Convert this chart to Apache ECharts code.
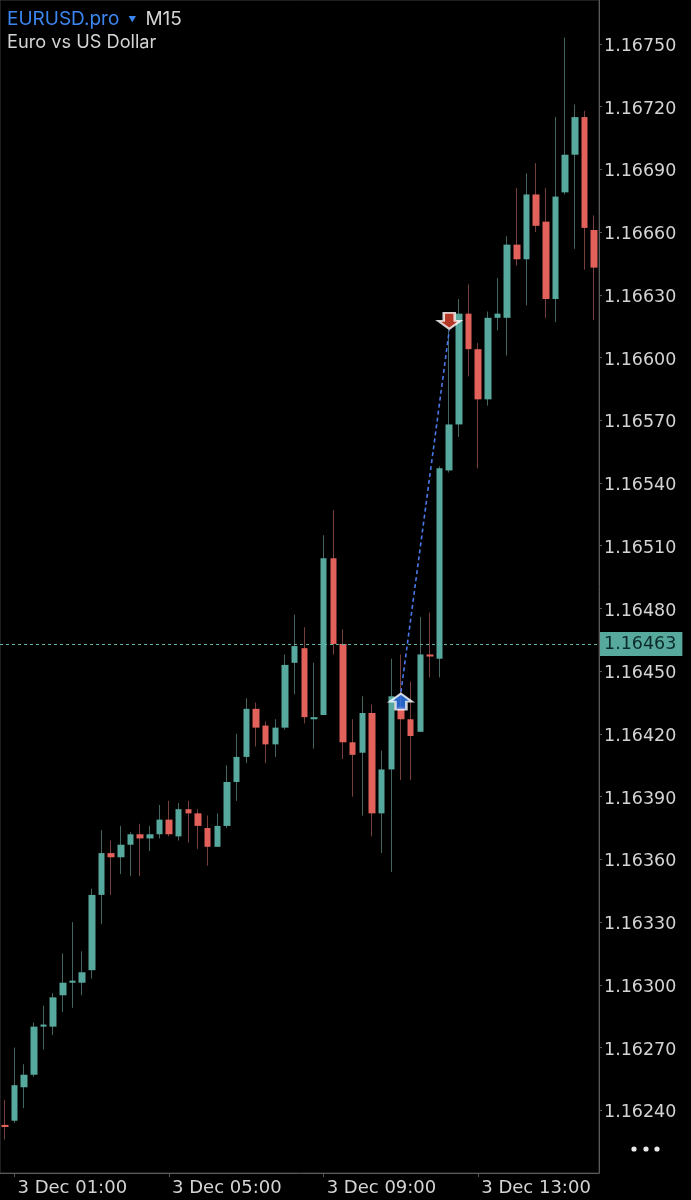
<!DOCTYPE html>
<html>
<head>
<meta charset="utf-8">
<style>html,body{margin:0;padding:0;background:#000}#c{width:691px;height:1200px}</style>
<script src="https://cdn.jsdelivr.net/npm/echarts@6/dist/echarts.min.js"></script>
</head>
<body>
<div id="c"></div>
<script>
const times = ['00:45','01:00','01:15','01:30','01:45','02:00','02:15','02:30','02:45','03:00','03:15','03:30','03:45','04:00','04:15','04:30','04:45','05:00','05:15','05:30','05:45','06:00','06:15','06:30','06:45','07:00','07:15','07:30','07:45','08:00','08:15','08:30','08:45','09:00','09:15','09:30','09:45','10:00','10:15','10:30','10:45','11:00','11:15','11:30','11:45','12:00','12:15','12:30','12:45','13:00','13:15','13:30','13:45','14:00','14:15','14:30','14:45','15:00','15:15','15:30','15:45','16:00'];
const timeLabels = ['01:00','05:00','09:00','13:00'];
const opens = [1.16233,1.16235,1.16251,1.16257,1.16280,1.16280,1.16295,1.16301,1.16301,1.16307,1.16343,1.16363,1.16361,1.16367,1.16372,1.16370,1.16372,1.16379,1.16371,1.16384,1.16382,1.16375,1.16366,1.16376,1.16397,1.16409,1.16432,1.16424,1.16415,1.16423,1.16454,1.16461,1.16427,1.16429,1.16504,1.16463,1.16416,1.16411,1.16430,1.16382,1.16403,1.16433,1.16427,1.16421,1.16458,1.16456,1.16546,1.16568,1.16621,1.16604,1.16580,1.16619,1.16619,1.16654,1.16647,1.16678,1.16665,1.16628,1.16679,1.16697,1.16715,1.16661];
const closes = [1.16232,1.16252,1.16257,1.16280,1.16281,1.16294,1.16301,1.16302,1.16306,1.16343,1.16363,1.16361,1.16367,1.16372,1.16370,1.16372,1.16379,1.16372,1.16384,1.16382,1.16376,1.16366,1.16376,1.16397,1.16409,1.16432,1.16423,1.16415,1.16423,1.16453,1.16462,1.16428,1.16428,1.16504,1.16463,1.16416,1.16410,1.16430,1.16382,1.16403,1.16438,1.16427,1.16419,1.16458,1.16457,1.16547,1.16568,1.16621,1.16604,1.16580,1.16619,1.16621,1.16654,1.16647,1.16678,1.16663,1.16628,1.16677,1.16697,1.16715,1.16662,1.16643];
const lows = [1.16226,1.16234,1.16241,1.16256,1.16269,1.16276,1.16287,1.16289,1.16295,1.16303,1.16329,1.16343,1.16353,1.16352,1.16352,1.16364,1.16370,1.16371,1.16369,1.16368,1.16365,1.16357,1.16366,1.16375,1.16388,1.16406,1.16414,1.16406,1.16409,1.16422,1.16439,1.16425,1.16413,1.16429,1.16458,1.16408,1.16390,1.16381,1.16371,1.16363,1.16354,1.16398,1.16398,1.16421,1.16447,1.16447,1.16545,1.16562,1.16591,1.16547,1.16577,1.16613,1.16601,1.16644,1.16625,1.16660,1.16619,1.16617,1.16678,1.16652,1.16642,1.16618];
const highs = [1.16245,1.16270,1.16262,1.16282,1.16290,1.16296,1.16315,1.16330,1.16316,1.16346,1.16374,1.16369,1.16376,1.16373,1.16377,1.16376,1.16386,1.16388,1.16387,1.16388,1.16384,1.16381,1.16382,1.16405,1.16420,1.16437,1.16435,1.16426,1.16427,1.16458,1.16477,1.16471,1.16454,1.16515,1.16527,1.16470,1.16427,1.16438,1.16434,1.16412,1.16456,1.16458,1.16445,1.16476,1.16478,1.16548,1.16613,1.16628,1.16635,1.16607,1.16622,1.16638,1.16658,1.16681,1.16688,1.16693,1.16681,1.16715,1.16753,1.16721,1.16718,1.16668];
const priceTicks = [1.16240,1.16270,1.16300,1.16330,1.16360,1.16390,1.16420,1.16450,1.16480,1.16510,1.16540,1.16570,1.16600,1.16630,1.16660,1.16690,1.16720,1.16750];
const currentPrice = 1.16463;
const tradeTimes = ['11:00','12:15'];
const tradePrices = [1.16440,1.16613];

const GREEN='#58a99d', RED='#e2615a', WICK_G='#436561', WICK_R='#743f3c', AXIS='#5a5a5a', TXT='#d4d4d4', FONT='Inter', NUM='"DejaVu Sans"';
const UP='path://M12 0 L24 11 L18 11 L18 22 L6 22 L6 11 L0 11 Z';
const DOWN='path://M6 0 L18 0 L18 11 L24 11 L12 22 L0 11 L6 11 Z';
const showIdx = i => timeLabels.includes(times[i]);

const chart = echarts.init(document.getElementById('c'), null, {renderer:'canvas'});
chart.setOption({
  animation:false,
  backgroundColor:'#000',
  title:{
    left:7, top:8, padding:0,
    text:'{a|EURUSD.pro}{b|    ▼    }{c|M15}\n{d|Euro vs US Dollar}',
    textStyle:{fontWeight:'normal',rich:{
      a:{color:'#3b86f0',fontFamily:FONT,fontSize:19,fontWeight:'normal',lineHeight:23},
      b:{color:'#3b86f0',fontFamily:FONT,fontSize:8,fontWeight:'normal',lineHeight:23},
      c:{color:TXT,fontFamily:FONT,fontSize:19,fontWeight:'normal',lineHeight:23},
      d:{color:TXT,fontFamily:FONT,fontSize:18.2,fontWeight:'normal',lineHeight:24}
    }}
  },
  grid:{left:0,right:92,top:0,bottom:27,show:true,borderColor:'#3c3c3c',borderWidth:1,backgroundColor:'#000'},
  xAxis:{
    type:'category',data:times,boundaryGap:true,
    axisLine:{lineStyle:{color:AXIS,width:1}},
    axisTick:{show:true,alignWithLabel:true,length:4,interval:showIdx,lineStyle:{color:AXIS}},
    axisLabel:{interval:showIdx,formatter:v=>'3 Dec '+v,align:'left',margin:6,padding:[0,0,0,3],color:TXT,fontFamily:NUM,fontSize:18},
    splitLine:{show:false}
  },
  yAxis:{
    type:'value',position:'right',scale:true,min:1.16210,max:1.16771,
    axisLine:{show:true,lineStyle:{color:AXIS,width:1}},
    axisTick:{show:true,length:3,customValues:priceTicks,lineStyle:{color:AXIS}},
    axisLabel:{customValues:priceTicks,formatter:v=>'{v|'+v.toFixed(5)+'}',margin:5,color:TXT,fontFamily:NUM,fontSize:17.5,
      rich:{v:{color:TXT,fontFamily:NUM,fontSize:17.5,padding:[5,0,0,0]}}},
    splitLine:{show:false}
  },
  series:[
    {
      name:'Wicks',type:'candlestick',barWidth:1,silent:true,z:2,
      data:times.map((t,i)=>[opens[i],closes[i],lows[i],highs[i]]),
      itemStyle:{color:WICK_G,color0:WICK_R,borderColor:WICK_G,borderColor0:WICK_R,borderWidth:1}
    },
    {
      name:'EURUSD.pro',type:'candlestick',barWidth:7,silent:true,z:3,
      data:times.map((t,i)=>[opens[i],closes[i],Math.min(opens[i],closes[i]),Math.max(opens[i],closes[i])]),
      itemStyle:{color:GREEN,color0:RED,borderColor:GREEN,borderColor0:RED,borderWidth:0},
      markLine:{
        silent:true,symbol:'none',precision:5,
        lineStyle:{color:'#5fb3a6',type:[3,3],width:1},
        label:{position:'end',distance:1,formatter:()=>currentPrice.toFixed(5),color:'#0b2b2a',backgroundColor:GREEN,fontFamily:NUM,fontSize:17.5,padding:[4,6,2,4]},
        data:[{yAxis:currentPrice}]
      }
    },
    {
      name:'Trade',type:'line',silent:true,z:4,symbol:'none',
      lineStyle:{color:'#4a78e8',type:[4,3],width:1.6},
      data:tradeTimes.map((t,i)=>[t,tradePrices[i]])
    },
    {
      name:'Arrows',type:'scatter',silent:true,z:5,
      symbolKeepAspect:false,
      data:[
        {value:[tradeTimes[0],tradePrices[0]],symbol:UP,symbolSize:[22,16],symbolOffset:[0,9.5],itemStyle:{color:'#2f7df6',borderColor:'#fff',borderWidth:2.2}},
        {value:[tradeTimes[1],tradePrices[1]],symbol:DOWN,symbolSize:[22,16],symbolOffset:[0,-9.5],itemStyle:{color:'#e2452f',borderColor:'#fff',borderWidth:2.2}}
      ]
    }
  ],
  graphic:[
    {type:'circle',shape:{cx:634,cy:1149,r:2.6},style:{fill:'#e8e8e8'}},
    {type:'circle',shape:{cx:646,cy:1149,r:2.6},style:{fill:'#e8e8e8'}},
    {type:'circle',shape:{cx:657,cy:1149,r:2.6},style:{fill:'#e8e8e8'}}
  ]
});
</script>
</body>
</html>
